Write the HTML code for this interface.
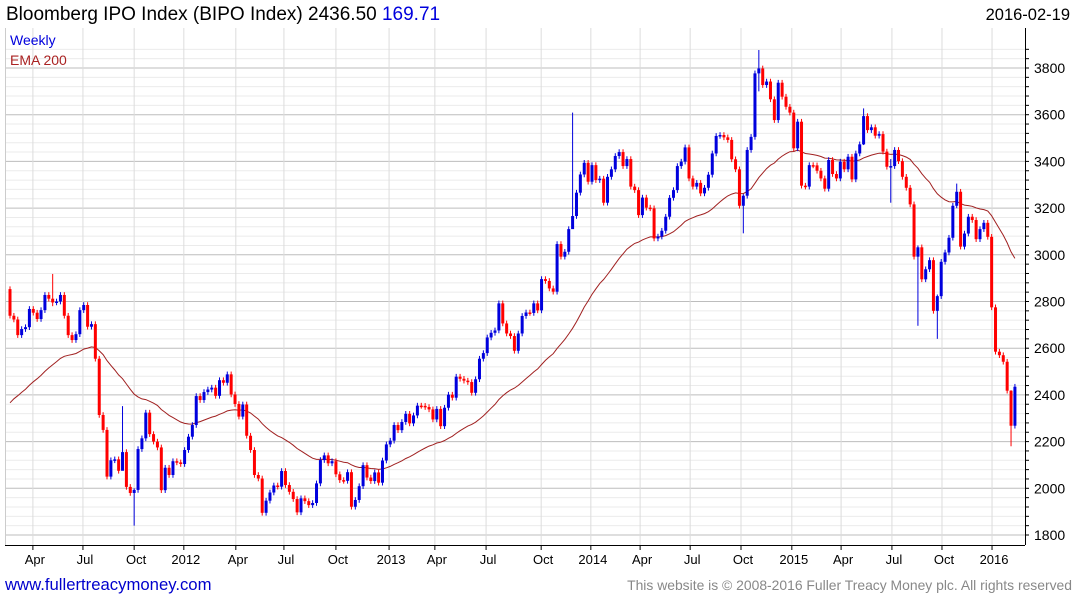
<!DOCTYPE html>
<html><head><meta charset="utf-8"><style>
body{margin:0;background:#fff;width:1075px;height:600px;overflow:hidden;font-family:"Liberation Sans",sans-serif}
svg{position:absolute;left:0;top:0}
</style></head><body>
<svg id="chart" width="1075" height="600" xmlns="http://www.w3.org/2000/svg">
<text x="6" y="20" font-size="19" fill="#000">Bloomberg IPO Index (BIPO Index) 2436.50 <tspan fill="#0000dd">169.71</tspan></text>
<text x="1070" y="20" font-size="16.5" fill="#000" text-anchor="end">2016-02-19</text>
<g id="grid"></g><g id="ema"></g><g id="candles"></g><g id="axes"></g>
<text x="10" y="45" font-size="14" fill="#0000dd">Weekly</text>
<text x="10" y="65" font-size="14" fill="#aa2222">EMA 200</text>
<text x="5" y="590" font-size="16.7" fill="#0000cc">www.fullertreacymoney.com</text>
<text x="1072" y="590" font-size="13.9" fill="#888" text-anchor="end">This website is © 2008-2016 Fuller Treacy Money plc. All rights reserved</text>
</svg>
<script>
const firstOpen = 2853;
const closes = [2739,2723,2656,2682,2690,2768,2752,2725,2763,2828,2812,2796,2800,2828,2739,2656,2635,2660,2763,2785,2692,2703,2555,2314,2250,2050,2120,2124,2075,2155,2006,1980,1993,2168,2214,2324,2232,2200,2175,1992,2088,2057,2116,2111,2104,2164,2221,2271,2395,2378,2412,2423,2431,2396,2463,2452,2488,2402,2361,2307,2359,2225,2164,2057,
2042,1895,1947,1982,2012,2007,2074,2014,1985,1954,1897,1957,1945,1928,1937,2021,2121,2141,2107,2116,2060,2035,2032,2069,1921,1950,2009,2099,2046,2031,2068,2024,2119,2188,2204,2271,2249,2284,2319,2278,2312,2354,2353,2348,2338,2295,2340,2266,2345,2401,2388,2478,2469,2461,2455,2409,2467,2555,2579,2646,2666,2676,2792,2706,2663,2652,2589,
2663,2738,2753,2751,2792,2762,2896,2888,2856,2842,3046,2992,3013,3110,3166,3266,3344,3394,3313,3384,3320,3326,3223,3334,3366,3423,3440,3380,3410,3292,3277,3170,3245,3202,3199,3070,3078,3103,3163,3244,3277,3380,3399,3460,3327,3292,3308,3263,3287,3343,3434,3509,3513,3503,3492,3409,3366,3210,3253,3449,3505,3777,3798,3727,3742,3666,3577,3737,
3677,3634,3609,3456,3570,3296,3292,3384,3383,3360,3327,3283,3406,3346,3327,3399,3366,3420,3323,3434,3473,3594,3534,3546,3510,3517,3442,3377,3380,3449,3401,3334,3287,3216,2992,3032,2895,2938,2977,2760,2823,2970,3010,3073,3210,3270,3035,3091,3163,3149,3067,3110,3137,3077,2775,2585,2570,2542,2418,2268,2435];
const wickIdx  = [11,29,32,145,189,193,220,227,234,239,244,258];
const wickHigh = [2918,2352,2000,3609,3260,3877,3627,3410,3040,2830,3305,2420];
const wickLow  = [2780,2150,1840,3160,3092,3700,3470,3223,2696,2640,3200,2180];
const emaSeed = 2366;
const yTicks = [1800,2000,2200,2400,2600,2800,3000,3200,3400,3600,3800];
const monthIdx = [5.9,18.8,32,44.8,58.2,70.6,84,97.7,109.5,122.7,136.9,149.7,162.4,175.3,188.4,201.5,214.2,227.3,240.2,253.1];
const monthLabels = ["Apr","Jul","Oct","2012","Apr","Jul","Oct","2013","Apr","Jul","Oct","2014","Apr","Jul","Oct","2015","Apr","Jul","Oct","2016"];

const NS="http://www.w3.org/2000/svg";
const L=5,R=1025,T=28,B=545;
function xS(i){return 10+i*3.88;}
function yS(v){return 68+(3800-v)*0.2335;}
function mk(tag,attrs,parent){const e=document.createElementNS(NS,tag);for(const k in attrs)e.setAttribute(k,attrs[k]);parent.appendChild(e);return e;}
const grid=document.getElementById('grid'),axes=document.getElementById('axes'),cg=document.getElementById('candles'),eg=document.getElementById('ema');
for(let v=1800;v<=3880;v+=40){
  const ln=mk('line',{x1:L,x2:R,y1:yS(v),y2:yS(v),stroke:(v%200===0)?'#bdbdbd':'#ebebeb','stroke-width':1},grid);
  
  
  const tk=mk('line',{x1:R,x2:R+4,y1:yS(v),y2:yS(v),stroke:'#000'},axes);
  
  
}
yTicks.forEach(v=>{
  const t=mk('text',{x:R+9,y:yS(v)+5,'font-size':14,fill:'#000'},axes);t.textContent=v;
  
  
});
monthIdx.forEach((m,k)=>{
  const x=xS(m);
  const g=mk('line',{x1:x,x2:x,y1:T,y2:B,stroke:'#dcdcdc'},grid);
  
  
  const tk=mk('line',{x1:x,x2:x,y1:B,y2:B+5,stroke:'#000'},axes);
  
  
  const t=mk('text',{x:x+2,y:B+19,'font-size':13,fill:'#000','text-anchor':'middle'},axes);t.textContent=monthLabels[k];
  
  
});
const ax1=mk('line',{x1:R+0.5,x2:R+0.5,y1:T,y2:B,stroke:'#000'},axes);


const ax2=mk('line',{x1:L,x2:R,y1:B+0.5,y2:B+0.5,stroke:'#000'},axes);


const ax3=mk('line',{x1:L+0.5,x2:L+0.5,y1:T,y2:B,stroke:'#ccc'},axes);


let ema=emaSeed;const a=2/41;let pts=[];
closes.forEach((c,i)=>{
  const o=i===0?firstOpen:closes[i-1];
  const up=c>=o;const col=up?'#0000dd':'#ff0000';
  const x=xS(i);
  let hi=Math.max(o,c)+12,lo=Math.min(o,c)-12;
  const w=wickIdx.indexOf(i);if(w>=0){hi=wickHigh[w];lo=wickLow[w];}
  const wk=mk('line',{x1:x,x2:x,y1:yS(hi),y2:yS(lo),stroke:col,'stroke-width':1},cg);
  
  
  const top=yS(Math.max(o,c)),bot=yS(Math.min(o,c));
  const bd=mk('rect',{x:x-1.5,y:top,width:3,height:Math.max(1.5,bot-top),fill:col},cg);
  
  
  if(i>0)ema=ema+a*(c-ema);
  pts.push(x.toFixed(1)+','+yS(ema).toFixed(1));
});
const pl=mk('polyline',{points:pts.join(' '),fill:'none',stroke:'#a02020','stroke-width':1},eg);


</script>
</body></html>
